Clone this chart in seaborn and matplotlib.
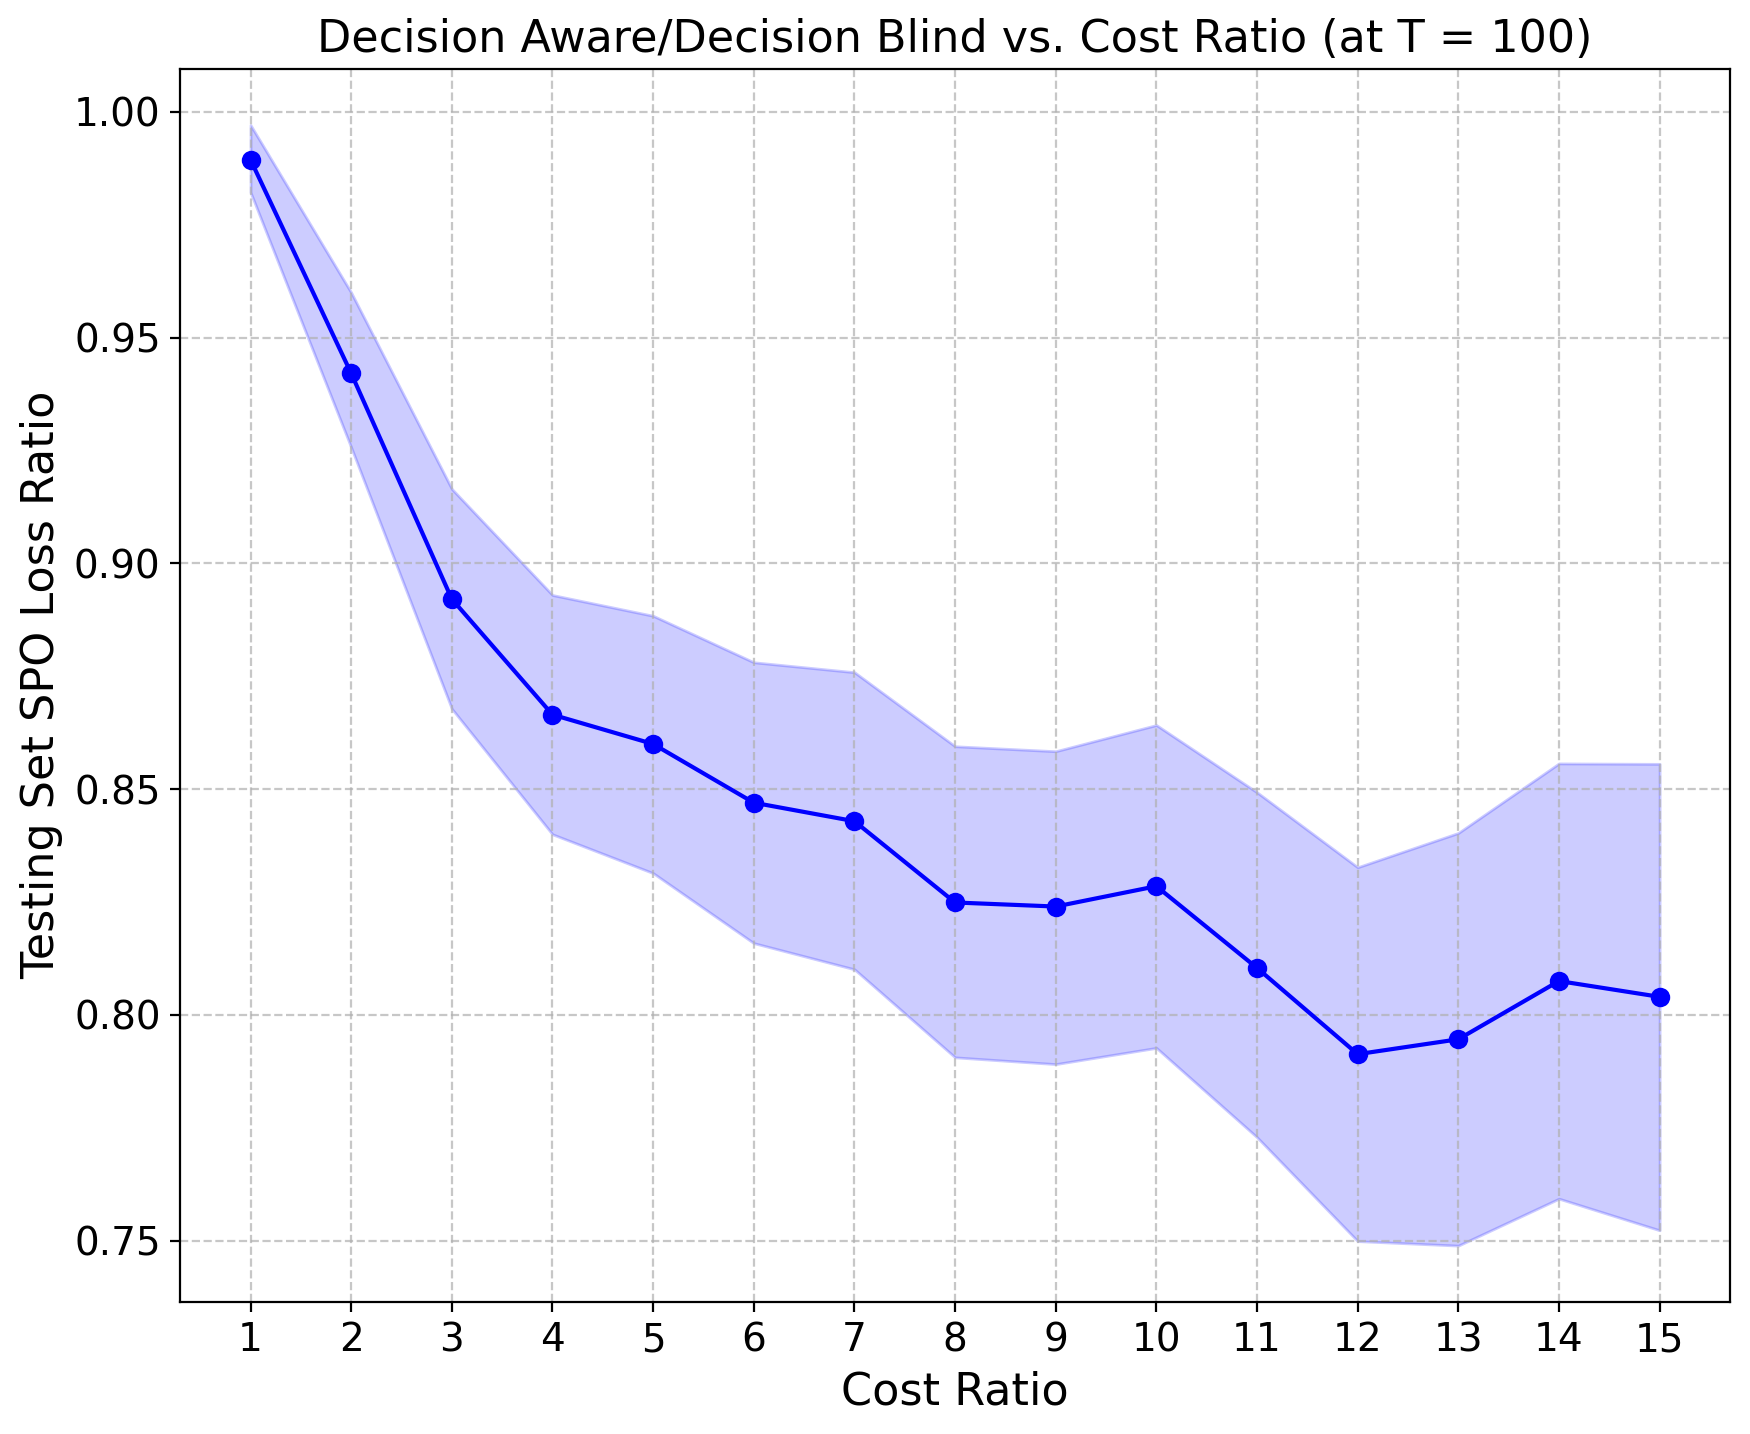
import matplotlib
matplotlib.use("Agg")
import matplotlib.pyplot as plt
import seaborn as sns
import pandas as pd

cost_ratio = [1, 2, 3, 4, 5, 6, 7, 8, 9, 10, 11, 12, 13, 14, 15]
mean_ratio = [0.9894, 0.9421, 0.8921, 0.8665, 0.8600, 0.8470, 0.8429, 0.8249,
              0.8240, 0.8285, 0.8104, 0.7913, 0.7946, 0.8075, 0.8040]
upper_ratio = [0.9971, 0.9600, 0.9165, 0.8930, 0.8884, 0.8781, 0.8759, 0.8595,
               0.8584, 0.8642, 0.8493, 0.8327, 0.8403, 0.8557, 0.8556]
lower_ratio = [0.9822, 0.9257, 0.8678, 0.8400, 0.8314, 0.8159, 0.8101, 0.7906,
               0.7891, 0.7927, 0.7729, 0.7499, 0.7489, 0.7593, 0.7523]

df = pd.DataFrame({"Cost Ratio": cost_ratio, "mean": mean_ratio,
                   "upper": upper_ratio, "lower": lower_ratio})

fig = plt.figure(figsize=(8.75, 7.17), dpi=200)
ax = fig.add_axes([0.1029, 0.0923, 0.8857, 0.8596])

ax.fill_between(df["Cost Ratio"], df["lower"], df["upper"], color="blue", alpha=0.2)
sns.lineplot(data=df, x="Cost Ratio", y="mean", ax=ax, color="blue",
             marker="o", markersize=7, markeredgewidth=0, linewidth=1.5)

ax.set_xticks(cost_ratio)
ax.set_xticklabels([str(c) for c in cost_ratio])
ax.tick_params(axis="both", labelsize=14)
ax.set_xlabel("Cost Ratio", fontsize=16)
ax.set_ylabel("Testing Set SPO Loss Ratio", fontsize=16)
ax.set_title("Decision Aware/Decision Blind vs. Cost Ratio (at T = 100)", fontsize=16)
ax.grid(True, linestyle="--", alpha=0.7)

fig.savefig("out.png", dpi=200)
